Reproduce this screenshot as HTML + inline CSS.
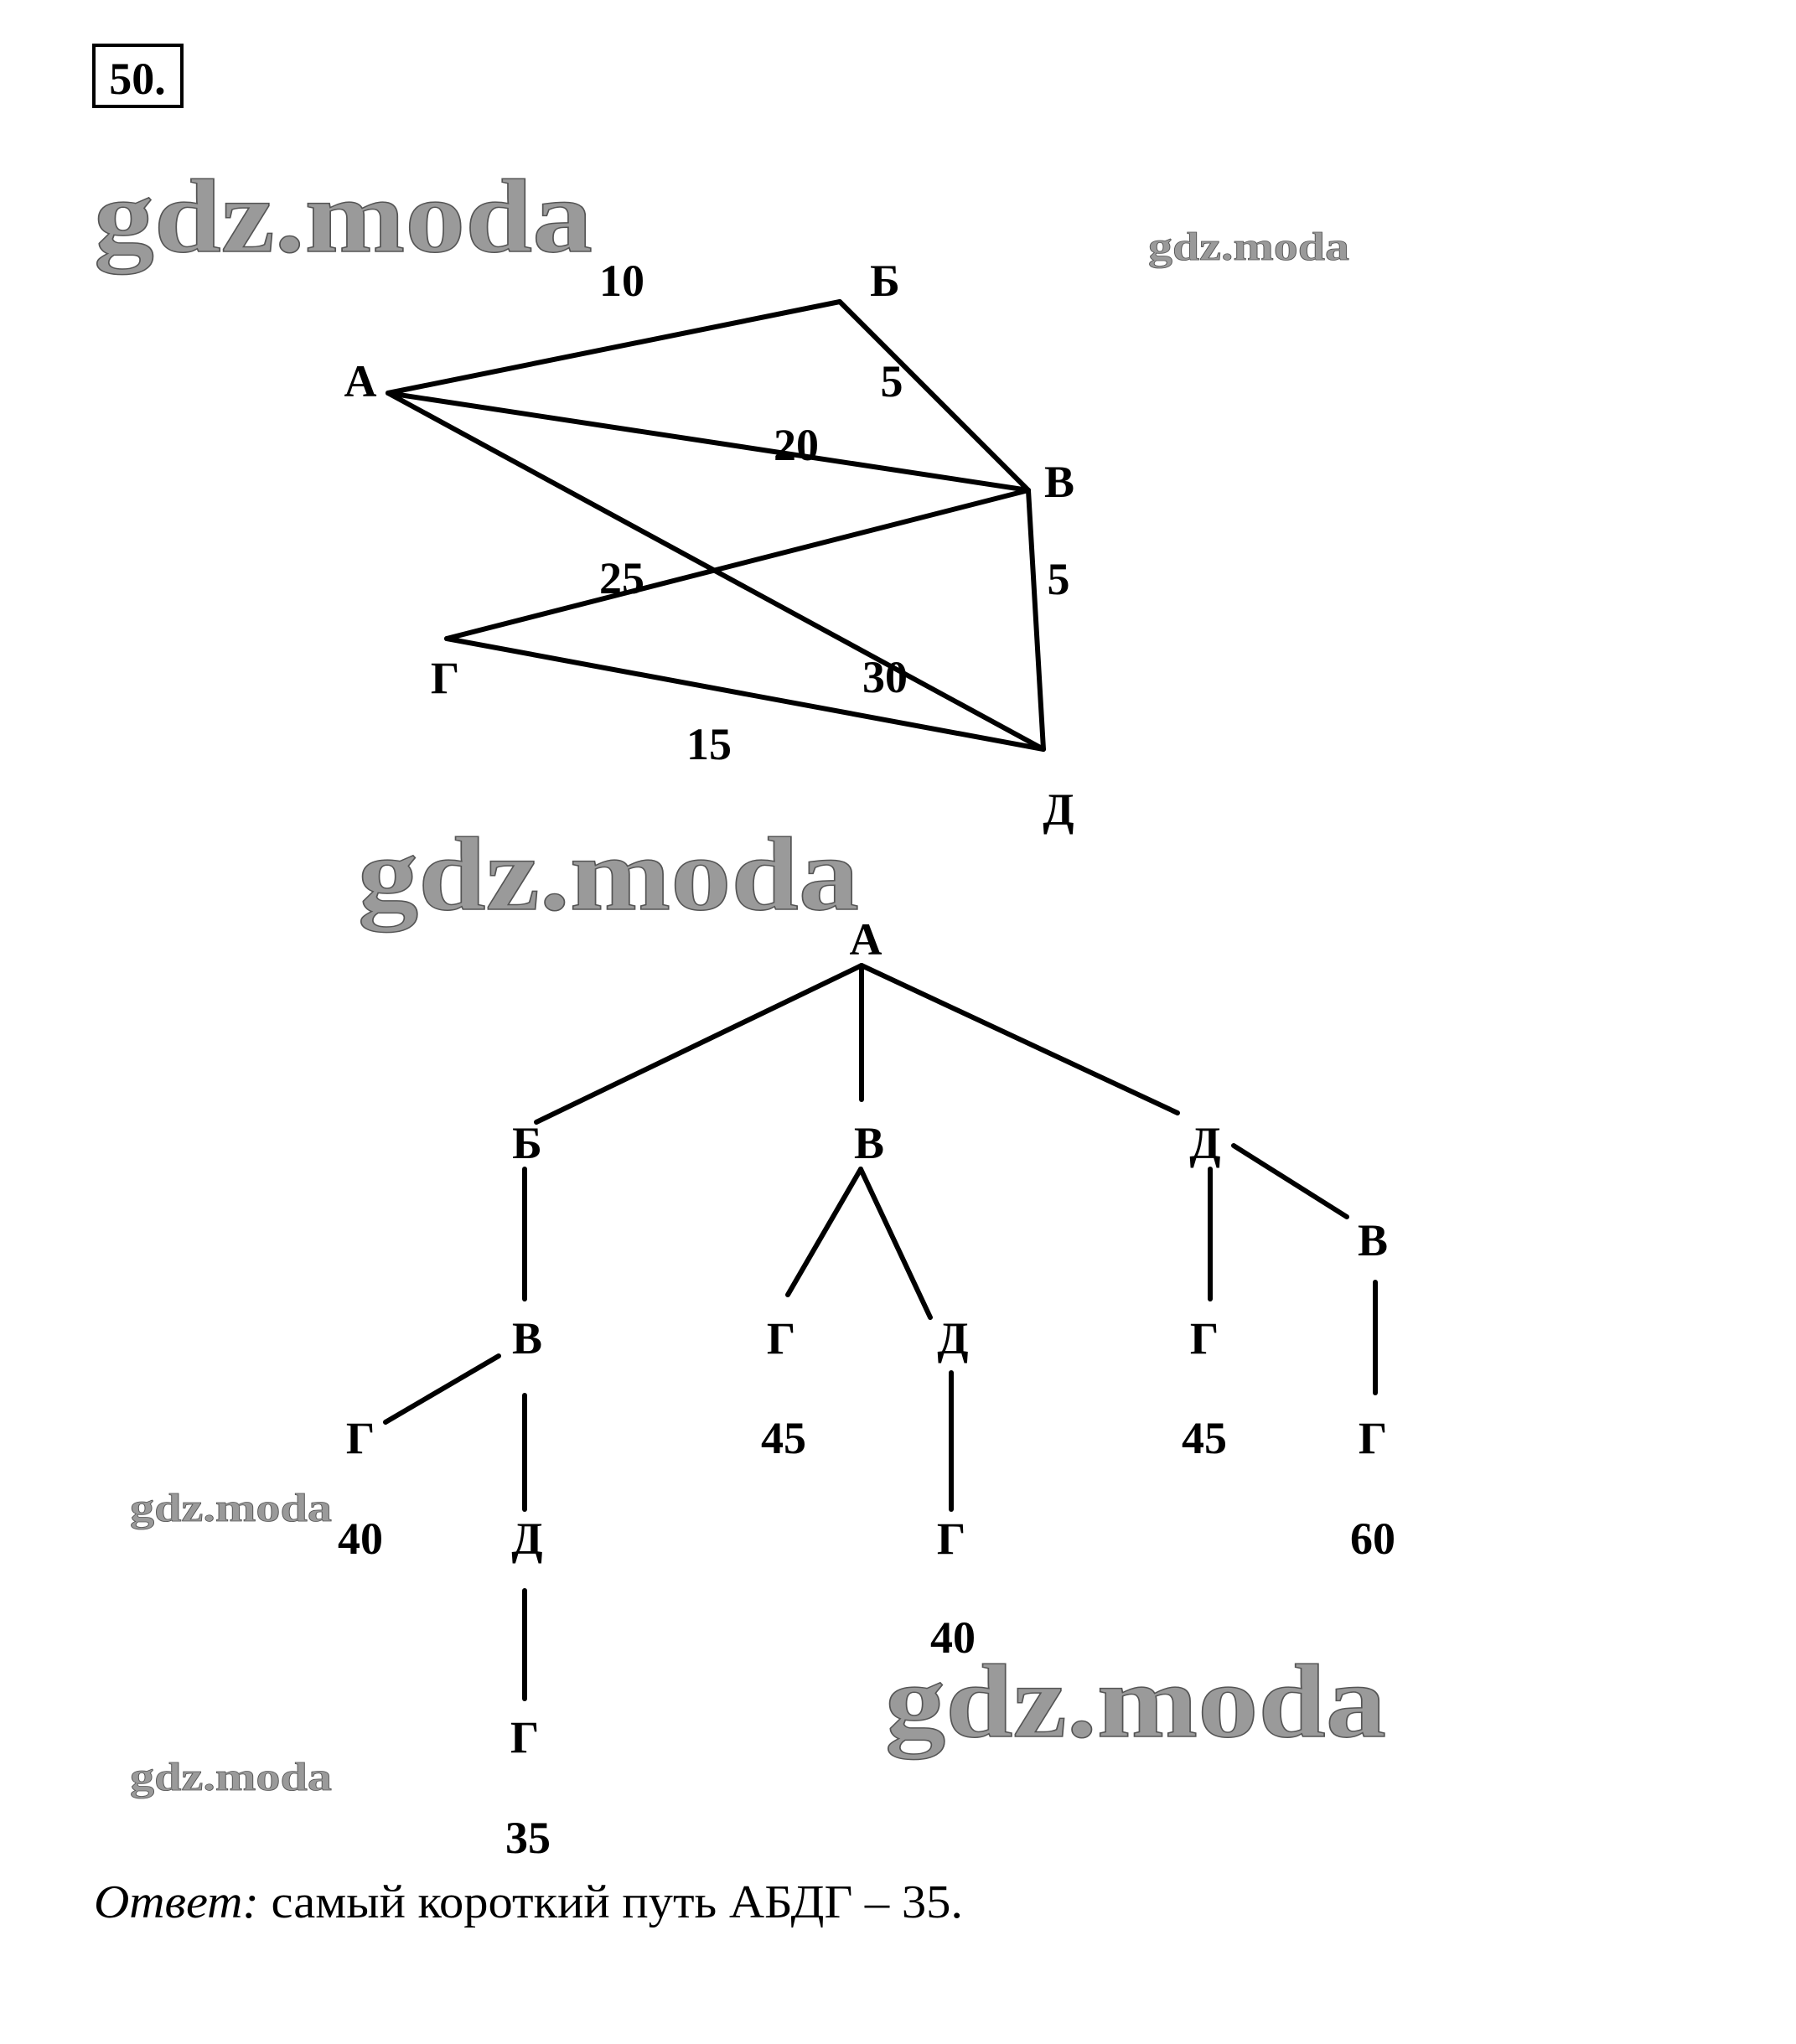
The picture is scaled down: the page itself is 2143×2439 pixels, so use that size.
<!DOCTYPE html>
<html><head><meta charset="utf-8"><style>html,body{margin:0;padding:0;background:#fff}svg{display:block}</style></head>
<body>
<svg width="2143" height="2439" viewBox="0 0 2143 2439" xmlns="http://www.w3.org/2000/svg">
<g font-family="Liberation Serif, serif" font-weight="bold" fill="#9a9a9a" stroke="#555" stroke-width="1.5">
<text x="112" y="300" font-size="125" textLength="595" lengthAdjust="spacingAndGlyphs">gdz.moda</text>
<text x="427" y="1085" font-size="125" textLength="598" lengthAdjust="spacingAndGlyphs">gdz.moda</text>
<text x="1056" y="2072" font-size="125" textLength="598" lengthAdjust="spacingAndGlyphs">gdz.moda</text>
<text x="1370" y="310" font-size="48" textLength="240" lengthAdjust="spacingAndGlyphs" stroke-width="0.8">gdz.moda</text>
<text x="155" y="1815" font-size="48" textLength="241" lengthAdjust="spacingAndGlyphs" stroke-width="0.8">gdz.moda</text>
<text x="155" y="2136" font-size="48" textLength="241" lengthAdjust="spacingAndGlyphs" stroke-width="0.8">gdz.moda</text>
</g>
<rect x="112" y="54" width="105" height="73" fill="none" stroke="#000" stroke-width="4"/>
<text x="164" y="112" font-family="Liberation Serif, serif" font-weight="bold" font-size="54" text-anchor="middle">50.</text>
<g stroke="#000" stroke-width="6" stroke-linecap="round" fill="none">
<line x1="463" y1="469" x2="1002" y2="360"/>
<line x1="1002" y1="360" x2="1227" y2="585"/>
<line x1="463" y1="469" x2="1227" y2="585"/>
<line x1="463" y1="469" x2="1245" y2="894"/>
<line x1="1227" y1="585" x2="533" y2="762"/>
<line x1="1227" y1="585" x2="1245" y2="894"/>
<line x1="533" y1="762" x2="1245" y2="894"/>
<line x1="1028" y1="1152" x2="640" y2="1339"/>
<line x1="1028" y1="1152" x2="1028" y2="1312"/>
<line x1="1028" y1="1152" x2="1405" y2="1328"/>
<line x1="1472" y1="1367" x2="1607" y2="1452"/>
<line x1="626" y1="1395" x2="626" y2="1550"/>
<line x1="1027" y1="1395" x2="940" y2="1545"/>
<line x1="1027" y1="1395" x2="1110" y2="1572"/>
<line x1="1444" y1="1395" x2="1444" y2="1550"/>
<line x1="1641" y1="1530" x2="1641" y2="1662"/>
<line x1="595" y1="1618" x2="460" y2="1697"/>
<line x1="626" y1="1665" x2="626" y2="1801"/>
<line x1="1135" y1="1638" x2="1135" y2="1801"/>
<line x1="626" y1="1898" x2="626" y2="2027"/>
</g>
<g font-family="Liberation Serif, 'Noto Serif CJK SC', serif" font-weight="bold" font-size="54" text-anchor="middle" dominant-baseline="central">
<text x="742" y="335">10</text><text x="1056" y="335">Б</text>
<text x="430" y="455">А</text><text x="1064" y="455">5</text>
<text x="950" y="531">20</text><text x="1264" y="575">В</text>
<text x="742" y="690">25</text><text x="1263" y="691">5</text>
<text x="531" y="809">Г</text><text x="1056" y="808">30</text>
<text x="846" y="888">15</text><text x="1263" y="966">Д</text>
<text x="1033" y="1121">А</text>
<text x="629" y="1364">Б</text><text x="1037" y="1364">В</text><text x="1438" y="1364">Д</text>
<text x="1638" y="1480">В</text>
<text x="629" y="1597">В</text><text x="932" y="1597">Г</text><text x="1137" y="1597">Д</text><text x="1437" y="1597">Г</text>
<text x="430" y="1716">Г</text><text x="935" y="1716">45</text><text x="1437" y="1716">45</text><text x="1638" y="1716">Г</text>
<text x="430" y="1836">40</text><text x="629" y="1836">Д</text><text x="1135" y="1836">Г</text><text x="1638" y="1836">60</text>
<text x="1137" y="1954">40</text>
<text x="626" y="2073">Г</text>
<text x="630" y="2193">35</text>
</g>
<text x="112" y="2288" font-family="Liberation Serif, 'Noto Serif CJK SC', serif" font-size="56" textLength="1037" lengthAdjust="spacingAndGlyphs"><tspan font-style="italic">Ответ:</tspan> самый короткий путь АБДГ – 35.</text>
</svg>
</body></html>
